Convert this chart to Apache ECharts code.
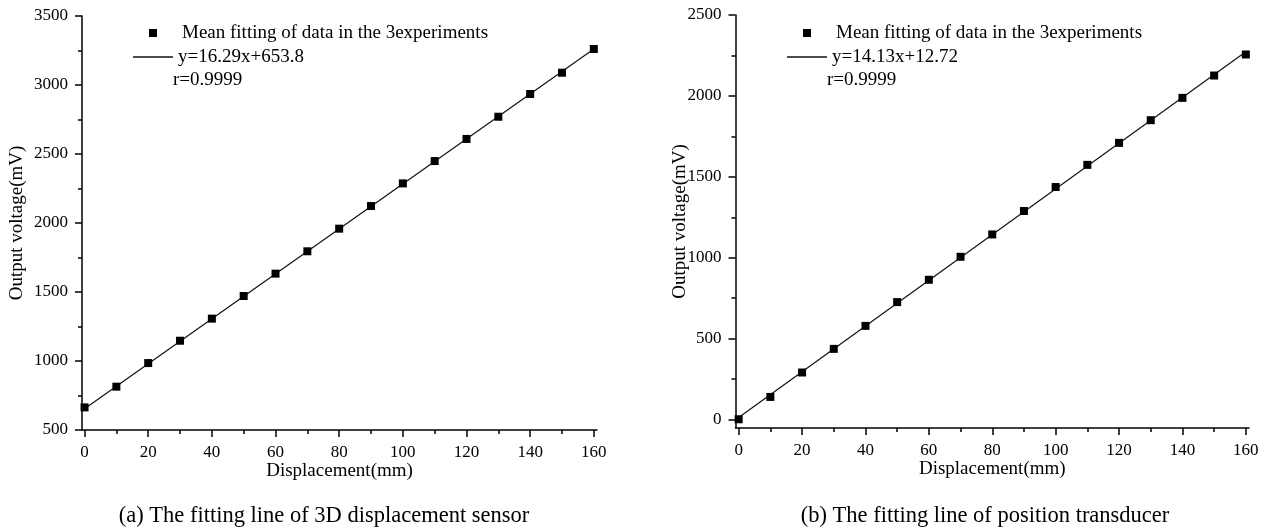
<!DOCTYPE html>
<html>
<head>
<meta charset="utf-8">
<script src="https://cdn.jsdelivr.net/npm/echarts@6/dist/echarts.min.js"></script>
<style>
  html, body { margin: 0; padding: 0; background: #fff; }
  #chart { width: 1273px; height: 528px; }
</style>
</head>
<body>
<div id="chart"></div>
<script>
// Displacement steps (mm) and the mean output voltage (mV) of the three runs
const displacement = [0, 10, 20, 30, 40, 50, 60, 70, 80, 90, 100, 110, 120, 130, 140, 150, 160];
const voltage3D = [664, 814, 985, 1147, 1307, 1471, 1633, 1795, 1959, 2123, 2287, 2449, 2609, 2770, 2935, 3089, 3261];
const voltagePosition = [2, 140, 291, 437, 579, 726, 864, 1006, 1144, 1289, 1437, 1574, 1710, 1850, 1988, 2126, 2256];

// Linear fits: [slope, intercept] and correlation coefficient
const fit3D = [16.29, 653.8];
const fitPosition = [14.13, 12.72];
const r3D = '0.9999';
const rPosition = '0.9999';

// Tick positions
const majorTicksX = [0, 20, 40, 60, 80, 100, 120, 140, 160];
const minorTicksX = [10, 30, 50, 70, 90, 110, 130, 150];
const majorTicksY3D = [500, 1000, 1500, 2000, 2500, 3000, 3500];
const minorTicksY3D = [750, 1250, 1750, 2250, 2750, 3250];
const majorTicksYPos = [0, 500, 1000, 1500, 2000, 2500];
const minorTicksYPos = [250, 750, 1250, 1750, 2250];

const pointsName = 'Mean fitting of data in the 3experiments';
const xName = 'Displacement(mm)';
const yName = 'Output voltage(mV)';
const captions = ['(a) The fitting line of 3D displacement sensor', '(b) The fitting line of position transducer'];

const FONT = '"Liberation Serif", "Times New Roman", serif';
const INK = '#000';
const axisLineStyle = { color: INK, width: 1.5 };
const plainNumber = (v) => String(v);

function fitLabel(fit) { return 'y=' + fit[0] + 'x+' + fit[1]; }
function fitEnds(fit) {
  const x0 = displacement[0], x1 = displacement[displacement.length - 1];
  return [[x0, fit[0] * x0 + fit[1]], [x1, fit[0] * x1 + fit[1]]];
}

function mainX(grid, min, max) {
  return {
    type: 'value', gridIndex: grid, min: min, max: max, position: 'bottom',
    name: xName, nameLocation: 'middle', nameGap: 32, nameMoveOverlap: false,
    nameTextStyle: { fontFamily: FONT, fontSize: 19, color: INK },
    axisLine: { onZero: false, lineStyle: axisLineStyle },
    axisTick: { customValues: majorTicksX, length: 7, lineStyle: axisLineStyle },
    axisLabel: { customValues: majorTicksX, margin: 14, fontFamily: FONT, fontSize: 17, color: INK, formatter: plainNumber },
    splitLine: { show: false }
  };
}
function minorX(grid, min, max) {
  return {
    type: 'value', gridIndex: grid, min: min, max: max, position: 'bottom',
    axisLine: { show: false, onZero: false },
    axisTick: { customValues: minorTicksX, length: 4, lineStyle: axisLineStyle },
    axisLabel: { show: false },
    splitLine: { show: false }
  };
}
function mainY(grid, min, max, ticks, gap) {
  return {
    type: 'value', gridIndex: grid, min: min, max: max, position: 'left',
    name: yName, nameLocation: 'middle', nameGap: gap, nameMoveOverlap: false,
    nameTextStyle: { fontFamily: FONT, fontSize: 19, color: INK },
    axisLine: { onZero: false, lineStyle: axisLineStyle },
    axisTick: { customValues: ticks, length: 7, lineStyle: axisLineStyle },
    axisLabel: { customValues: ticks, margin: 14, fontFamily: FONT, fontSize: 17, color: INK, formatter: plainNumber },
    splitLine: { show: false }
  };
}
function minorY(grid, min, max, ticks) {
  return {
    type: 'value', gridIndex: grid, min: min, max: max, position: 'left',
    axisLine: { show: false, onZero: false },
    axisTick: { customValues: ticks, length: 4, lineStyle: axisLineStyle },
    axisLabel: { show: false },
    splitLine: { show: false }
  };
}

function legendFor(left, fit) {
  return {
    left: left, top: 21, orient: 'vertical', padding: 0,
    itemWidth: 40, itemHeight: 8, itemGap: 0,
    selectedMode: false,
    textStyle: { fontFamily: FONT, fontSize: 19, lineHeight: 24, color: INK },
    data: [
      { name: pointsName, icon: 'path://M0,0H10V10H0Z', textStyle: { padding: [0, 0, 0, 4] } },
      { name: fitLabel(fit), icon: 'path://M0,0H40V1.5H0Z' }
    ]
  };
}

const scatterStyle = { color: INK, opacity: 1 };
const lineStyle = { color: '#111', width: 1.2 };

const option = {
  animation: false,
  backgroundColor: '#fff',
  grid: [
    { left: 82, top: 16, width: 515, height: 414 },
    { left: 735.5, top: 15, width: 513.5, height: 413 }
  ],
  xAxis: [
    mainX(0, -0.8, 161), minorX(0, -0.8, 161),
    mainX(1, -1, 161), minorX(1, -1, 161)
  ],
  yAxis: [
    mainY(0, 500, 3500, majorTicksY3D, 55), minorY(0, 500, 3500, minorTicksY3D),
    mainY(1, -52, 2500, majorTicksYPos, 46), minorY(1, -52, 2500, minorTicksYPos)
  ],
  legend: [legendFor(133, fit3D), legendFor(787, fitPosition)],
  series: [
    {
      name: fitLabel(fit3D), type: 'line', xAxisIndex: 0, yAxisIndex: 0,
      data: fitEnds(fit3D), symbol: 'none', lineStyle: lineStyle, itemStyle: { color: '#111' }, z: 2
    },
    {
      name: pointsName, type: 'scatter', xAxisIndex: 0, yAxisIndex: 0,
      data: displacement.map((d, i) => [d, voltage3D[i]]),
      symbol: 'rect', symbolSize: 8, itemStyle: scatterStyle, z: 3
    },
    {
      name: fitLabel(fitPosition), type: 'line', xAxisIndex: 2, yAxisIndex: 2,
      data: fitEnds(fitPosition), symbol: 'none', lineStyle: lineStyle, itemStyle: { color: '#111' }, z: 2
    },
    {
      name: pointsName, type: 'scatter', xAxisIndex: 2, yAxisIndex: 2,
      data: displacement.map((d, i) => [d, voltagePosition[i]]),
      symbol: 'rect', symbolSize: 8, itemStyle: scatterStyle, z: 3
    }
  ],
  graphic: [
    { type: 'text', x: 173, y: 80, style: { text: 'r=' + r3D, font: '19px ' + FONT, fill: INK, verticalAlign: 'middle' } },
    { type: 'text', x: 827, y: 80, style: { text: 'r=' + rPosition, font: '19px ' + FONT, fill: INK, verticalAlign: 'middle' } },
    { type: 'text', x: 324, y: 516, style: { text: captions[0], font: '22.5px ' + FONT, fill: INK, align: 'center', verticalAlign: 'middle' } },
    { type: 'text', x: 985, y: 516, style: { text: captions[1], font: '22.5px ' + FONT, fill: INK, align: 'center', verticalAlign: 'middle' } }
  ]
};

const chart = echarts.init(document.getElementById('chart'));
chart.setOption(option);
</script>
</body>
</html>
